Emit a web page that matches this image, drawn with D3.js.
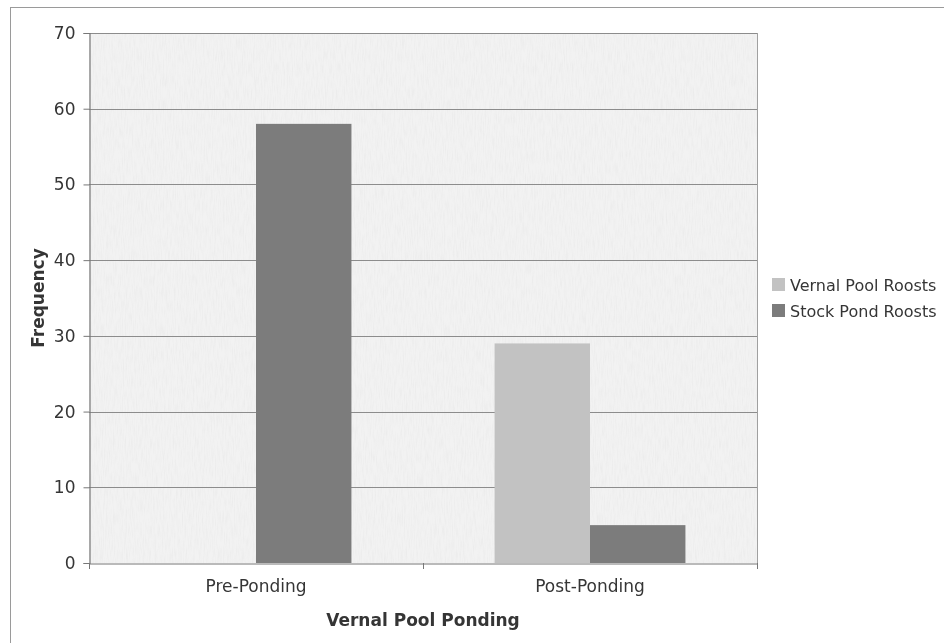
<!DOCTYPE html>
<html>
<head>
<meta charset="utf-8">
<script src="https://cdn.jsdelivr.net/npm/d3@7/dist/d3.min.js"></script>
<style>
  html, body { margin: 0; padding: 0; background: #fff; }
  svg { display: block; }
  text { font-family: "DejaVu Sans", Verdana, sans-serif; fill: #353535; }
</style>
</head>
<body>
<div id="chart"></div>
<script>
// Roost counts before and after vernal pool ponding
const categories = ["Pre-Ponding", "Post-Ponding"];
const seriesNames = ["Vernal Pool Roosts", "Stock Pond Roosts"];
const vernalPoolRoosts = [0, 29];
const stockPondRoosts = [58, 5];
const yTicks = [0, 10, 20, 30, 40, 50, 60, 70];

const seriesValues = [vernalPoolRoosts, stockPondRoosts];
const seriesColors = ["#c2c2c2", "#7b7b7b"];

const W = 944, H = 643;
const plot = { left: 89, top: 33, right: 757, bottom: 563 };
const FONT = "'DejaVu Sans', Verdana, sans-serif";
const FS = 17;

const svg = d3.select("#chart").append("svg")
  .attr("width", W).attr("height", H);

const defs = svg.append("defs");
const soft = defs.append("filter").attr("id", "soft")
  .attr("x", 0).attr("y", 0).attr("width", 1).attr("height", 1);
soft.append("feGaussianBlur").attr("stdDeviation", 0.45);

// faint paper grain inside the plot area
const grain = defs.append("filter").attr("id", "grain")
  .attr("x", 0).attr("y", 0).attr("width", 1).attr("height", 1);
grain.append("feTurbulence").attr("type", "fractalNoise")
  .attr("baseFrequency", "0.9 0.08").attr("numOctaves", 2).attr("seed", 3).attr("result", "n");
grain.append("feColorMatrix").attr("in", "n").attr("type", "matrix")
  .attr("values", "0 0 0 0 0.55  0 0 0 0 0.55  0 0 0 0 0.55  0 0 0 -0.9 0.55");

const g = svg.append("g").attr("filter", "url(#soft)");

// outer chart frame
g.append("rect")
  .attr("x", 10.5).attr("y", 7.5).attr("width", W + 10).attr("height", H + 10)
  .attr("fill", "#fff").attr("stroke", "#9a9a9a").attr("stroke-width", 1);

const x0 = d3.scaleBand().domain(categories).range([plot.left, plot.right]).paddingInner(0).paddingOuter(0);
// Excel-style 150% gap: two bars per group, 0.75 bar of space on each side
const x1 = d3.scaleBand().domain(seriesNames)
  .range([0, x0.bandwidth()]).paddingInner(0).paddingOuter(0.75);

const y = d3.scaleLinear().domain([0, 70]).range([plot.bottom, plot.top]);

// plot area background
g.append("rect")
  .attr("x", plot.left).attr("y", plot.top)
  .attr("width", plot.right - plot.left).attr("height", plot.bottom - plot.top)
  .attr("fill", "#f2f2f2");
g.append("rect")
  .attr("x", plot.left).attr("y", plot.top)
  .attr("width", plot.right - plot.left).attr("height", plot.bottom - plot.top)
  .attr("filter", "url(#grain)").attr("opacity", 0.3);

// horizontal gridlines
g.append("g").selectAll("line").data(yTicks.filter(t => t > 0)).join("line")
  .attr("x1", plot.left).attr("x2", plot.right)
  .attr("y1", d => Math.round(y(d)) + 0.5).attr("y2", d => Math.round(y(d)) + 0.5)
  .attr("stroke", "#8c8c8c").attr("stroke-width", 1.2);

// right edge of plot area
g.append("line")
  .attr("x1", plot.right + 0.5).attr("x2", plot.right + 0.5)
  .attr("y1", plot.top).attr("y2", plot.bottom)
  .attr("stroke", "#a0a0a0");

// bars
const groups = g.append("g").selectAll("g").data(categories).join("g")
  .attr("transform", d => `translate(${x0(d)},0)`);
groups.selectAll("rect")
  .data((c, ci) => seriesNames.map((s, si) => ({ s, si, v: seriesValues[si][ci] })))
  .join("rect")
  .attr("x", d => x1(d.s))
  .attr("width", x1.bandwidth())
  .attr("y", d => y(d.v))
  .attr("height", d => y(0) - y(d.v))
  .attr("fill", d => seriesColors[d.si]);

// y axis
const yAxis = g.append("g").attr("transform", `translate(${plot.left + 0.5},0)`)
  .call(d3.axisLeft(y).tickValues(yTicks).tickSize(6).tickPadding(8).tickFormat(d3.format("d")));
yAxis.select(".domain").attr("stroke", "#777").attr("stroke-width", 1.2);
yAxis.selectAll(".tick line").attr("stroke", "#777");
yAxis.selectAll("text").attr("font-size", FS).attr("fill", "#353535")
  .style("font-family", FONT);

// x axis with category separators
const xAxis = g.append("g").attr("transform", `translate(0,${plot.bottom + 0.5})`)
  .call(d3.axisBottom(x0).tickSize(0).tickPadding(16));
xAxis.select(".domain").attr("stroke", "#777").attr("stroke-width", 1.2);
xAxis.selectAll("text").attr("font-size", FS).attr("fill", "#353535")
  .style("font-family", FONT);
g.append("g").selectAll("line")
  .data([plot.left, plot.left + x0.bandwidth(), plot.right])
  .join("line")
  .attr("x1", d => d + 0.5).attr("x2", d => d + 0.5)
  .attr("y1", plot.bottom).attr("y2", plot.bottom + 6)
  .attr("stroke", "#777");

// axis titles
g.append("text")
  .attr("x", (plot.left + plot.right) / 2).attr("y", 626)
  .attr("text-anchor", "middle").attr("font-size", FS).attr("font-weight", "bold")
  .text("Vernal Pool Ponding");
g.append("text")
  .attr("transform", `translate(44,${(plot.top + plot.bottom) / 2}) rotate(-90)`)
  .attr("text-anchor", "middle").attr("font-size", FS).attr("font-weight", "bold")
  .text("Frequency");

// legend (sized to stay inside the frame)
const legend = g.append("g").attr("transform", "translate(772,278)");
const items = legend.selectAll("g").data(seriesNames).join("g")
  .attr("transform", (d, i) => `translate(0,${i * 26})`);
items.append("rect").attr("width", 13).attr("height", 13)
  .attr("fill", (d, i) => seriesColors[i]);
items.append("text").attr("x", 18).attr("y", 12.5)
  .attr("font-size", 16).text(d => d);
</script>
</body>
</html>
